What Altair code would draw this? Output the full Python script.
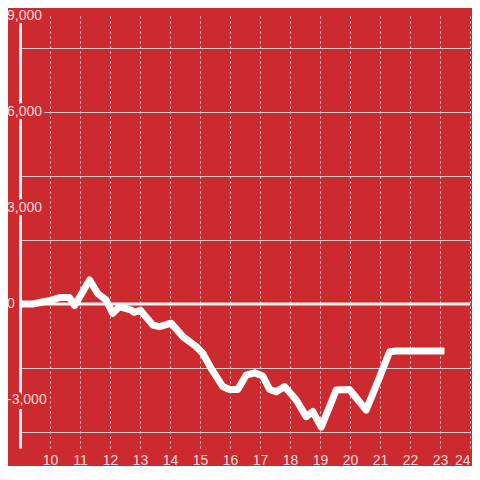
import altair as alt
import pandas as pd

# ---- data ----
hours = [9.0, 9.43, 10.0, 10.32, 10.65, 10.82, 11.32, 11.59, 11.87, 12.09,
         12.32, 12.71, 12.80, 13.02, 13.43, 13.65, 14.04, 14.43, 14.87, 15.09,
         15.37, 15.76, 15.98, 16.26, 16.54, 16.82, 17.09, 17.32, 17.54, 17.82,
         18.21, 18.54, 18.76, 19.04, 19.54, 19.98, 20.54, 20.93, 21.32, 21.54,
         23.15]
values = [0, 0, 110, 200, 200, -50, 750, 330, 125, -290,
          -80, -190, -260, -200, -660, -710, -600, -1020, -1330, -1540,
          -2010, -2580, -2670, -2670, -2220, -2150, -2250, -2670, -2740, -2580,
          -3000, -3520, -3360, -3850, -2690, -2670, -3310, -2420, -1490, -1470,
          -1470]

x_ticks = list(range(10, 25))
y_grid = list(range(-4000, 9001, 1000))
y_label_values = [-3000, 0, 3000, 6000, 9000]
y_label_texts = ["-3,000", "0", "3,000", "6,000", "9,000"]

BG = "#cd2a2f"
LABEL = "#f3dada"
FONT = "Liberation Sans"

df = pd.DataFrame({"hour": hours, "value": values})
labels_df = pd.DataFrame({"v": y_label_values, "t": y_label_texts})
zero_df = pd.DataFrame({"v": [0]})

x_scale = alt.Scale(domain=[9, 24], nice=False, zero=False)
y_scale = alt.Scale(domain=[-4500, 9000], nice=False)

line = alt.Chart(df).mark_line(
    color="white", strokeWidth=7, strokeJoin="round", strokeCap="butt"
).encode(
    x=alt.X("hour:Q", scale=x_scale, title=None,
            axis=alt.Axis(values=x_ticks, grid=True, gridDash=[2, 3],
                          gridColor="#eadede", gridWidth=1, domain=False,
                          ticks=False, tickSize=0, labelPadding=5,
                          labelFontSize=14, labelColor=LABEL, labelFont=FONT,
                          labelFlush=True)),
    y=alt.Y("value:Q", scale=y_scale, title=None,
            axis=alt.Axis(values=y_grid, grid=True, gridColor="#cfcfcf",
                          gridWidth=1, labels=False, ticks=False, tickSize=0,
                          domain=True, domainColor="#f0f0f0", domainWidth=3)),
)

zero = alt.Chart(zero_df).mark_rule(color="#f4f4f4", strokeWidth=3).encode(
    y=alt.Y("v:Q", scale=y_scale)
)

halo = alt.Chart(labels_df).mark_text(
    align="left", baseline="middle", fontSize=14, font=FONT,
    fill=BG, stroke=BG, strokeWidth=6
).encode(
    y=alt.Y("v:Q", scale=y_scale),
    x=alt.value(-13),
    text="t:N",
)

ylabels = alt.Chart(labels_df).mark_text(
    align="left", baseline="middle", fontSize=14, font=FONT, fill=LABEL
).encode(
    y=alt.Y("v:Q", scale=y_scale),
    x=alt.value(-13),
    text="t:N",
)

chart = alt.layer(zero, line, halo, ylabels).properties(
    width=450, height=432, background=BG,
    padding={"left": 12, "top": 8, "right": 2, "bottom": 18},
    autosize=alt.AutoSizeParams(type="none"),
).configure_view(stroke=None)

chart.save("out.html", embed_options={"renderer": "svg", "actions": False})
